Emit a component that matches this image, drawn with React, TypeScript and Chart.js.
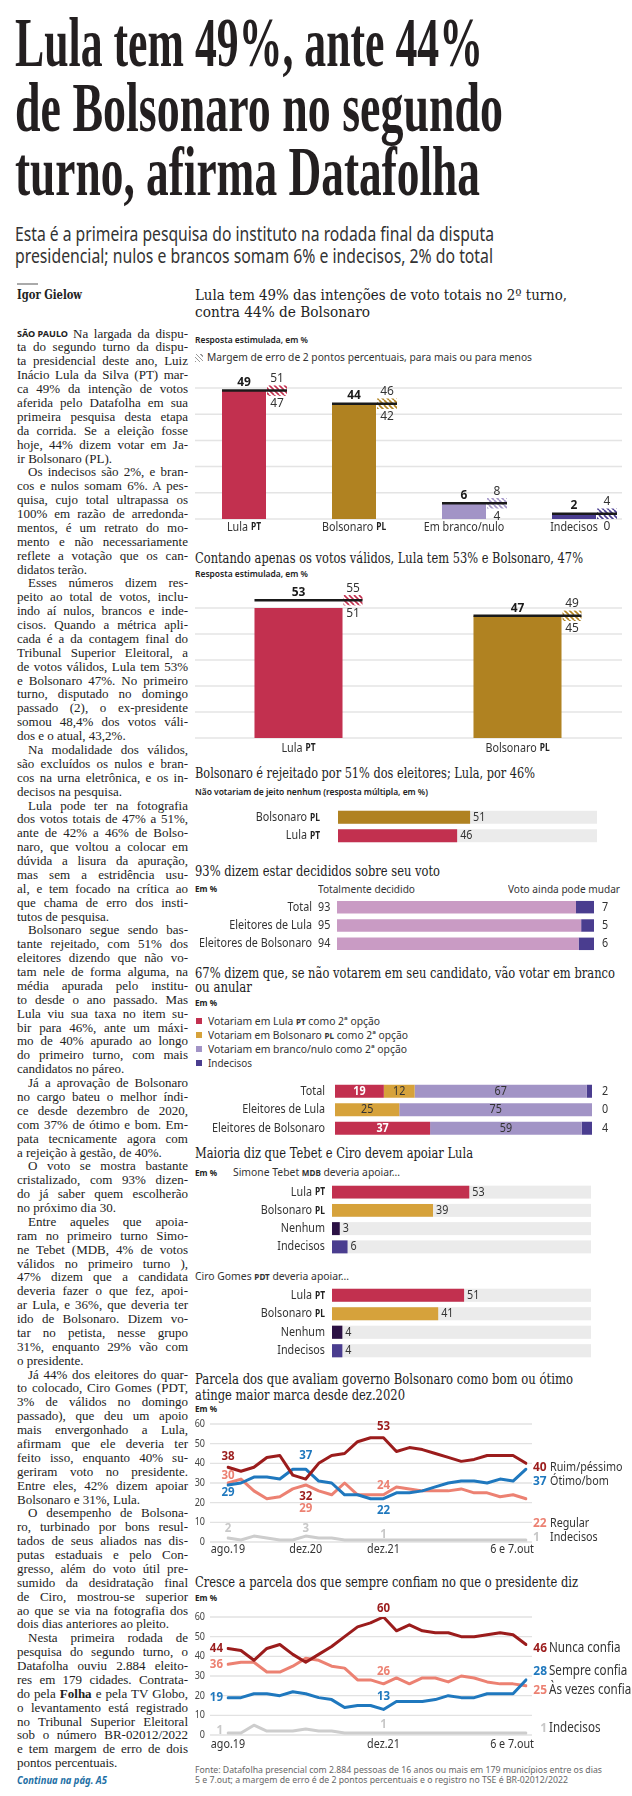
import React, { useEffect, useLayoutEffect, useRef } from "react";
import { Chart, registerables } from "chart.js";
Chart.register(...registerables);

// ---------------- DATA ----------------
const voteCategories = ["Lula", "Bolsonaro", "Em branco/nulo", "Indecisos"];
const voteParties = ["PT", "PL", "", ""];
const voteTotal = [49, 44, 6, 2];
const errorMargin = 2;

const validCategories = ["Lula", "Bolsonaro"];
const validParties = ["PT", "PL"];
const validVotes = [53, 47];

const rejectCategories = ["Bolsonaro", "Lula"];
const rejectParties = ["PL", "PT"];
const rejectValues = [51, 46];

const decidedCategories = ["Total", "Eleitores de Lula", "Eleitores de Bolsonaro"];
const decidedTotally = [93, 95, 94];
const decidedMayChange = [7, 5, 6];

const secondCategories = ["Total", "Eleitores de Lula", "Eleitores de Bolsonaro"];
const secondLula = [19, 0, 37];
const secondBolsonaro = [12, 25, 0];
const secondBlank = [67, 75, 59];
const secondUndecided = [2, 0, 4];

const supportCategories = ["Lula", "Bolsonaro", "Nenhum", "Indecisos"];
const supportParties = ["PT", "PL", "", ""];
const tebetSupport = [53, 39, 3, 6];
const ciroSupport = [51, 41, 4, 4];

const evalPeriods = ["ago.19", "", "", "", "", "", "dez.20", "", "", "", "", "", "dez.21", "", "", "", "", "", "", "", "", "", "", "6 e 7.out"];
const evalNames = ["Ruim/péssimo", "Ótimo/bom", "Regular", "Indecisos"];
const evalRuim = [38, 36, 38, 43, 44, 34, 32, 40, 44, 45, 51, 53, 53, 46, 48, 47, 45, 43, 41, 42, 44, 44, 44, 40];
const evalOtimo = [29, 30, 33, 33, 32, 37, 37, 31, 30, 24, 24, 22, 22, 25, 25, 26, 28, 30, 31, 31, 30, 32, 31, 37];
const evalRegular = [30, 32, 26, 22, 23, 27, 29, 26, 24, 30, 24, 24, 24, 28, 27, 26, 26, 26, 27, 25, 25, 23, 24, 22];
const evalIndecisos = [2, 1, 3, 2, 1, 1, 3, 2, 2, 1, 1, 1, 1, 1, 1, 1, 1, 1, 1, 1, 1, 1, 1, 1];

const trustPeriods = ["ago.19", "", "", "", "", "", "", "", "", "", "", "", "dez.21", "", "", "", "", "", "", "", "", "", "", "6 e 7.out"];
const trustNames = ["Nunca confia", "Sempre confia", "Às vezes confia", "Indecisos"];
const trustNunca = [44, 43, 38, 44, 46, 41, 37, 41, 45, 50, 55, 57, 60, 53, 56, 53, 52, 52, 50, 50, 51, 52, 51, 46];
const trustSempre = [19, 19, 21, 21, 20, 22, 21, 19, 18, 14, 15, 15, 13, 17, 17, 17, 18, 20, 19, 19, 21, 21, 21, 28];
const trustAsVezes = [36, 37, 37, 32, 32, 35, 39, 38, 35, 34, 28, 28, 26, 29, 26, 29, 29, 27, 30, 29, 27, 26, 26, 25];
const trustIndecisos = [1, 1, 5, 2, 2, 2, 3, 2, 2, 1, 1, 1, 1, 1, 1, 1, 1, 1, 1, 1, 1, 1, 1, 1];

const bodyParagraphs: string[][] = [
  ["Na largada da dispu-", "ta do segundo turno da dispu-", "ta presidencial deste ano, Luiz", "Inácio Lula da Silva (PT) mar-", "ca 49% da intenção de votos", "aferida pelo Datafolha em sua", "primeira pesquisa desta etapa", "da corrida. Se a eleição fosse", "hoje, 44% dizem votar em Ja-", "ir Bolsonaro (PL)."],
  ["Os indecisos são 2%, e bran-", "cos e nulos somam 6%. A pes-", "quisa, cujo total ultrapassa os", "100% em razão de arredonda-", "mentos, é um retrato do mo-", "mento e não necessariamente", "reflete a votação que os can-", "didatos terão."],
  ["Esses números dizem res-", "peito ao total de votos, inclu-", "indo aí nulos, brancos e inde-", "cisos. Quando a métrica apli-", "cada é a da contagem final do", "Tribunal Superior Eleitoral, a", "de votos válidos, Lula tem 53%", "e Bolsonaro 47%. No primeiro", "turno, disputado no domingo", "passado (2), o ex-presidente", "somou 48,4% dos votos váli-", "dos e o atual, 43,2%."],
  ["Na modalidade dos válidos,", "são excluídos os nulos e bran-", "cos na urna eletrônica, e os in-", "decisos na pesquisa."],
  ["Lula pode ter na fotografia", "dos votos totais de 47% a 51%,", "ante de 42% a 46% de Bolso-", "naro, que voltou a colocar em", "dúvida a lisura da apuração,", "mas sem a estridência usu-", "al, e tem focado na crítica ao", "que chama de erro dos insti-", "tutos de pesquisa."],
  ["Bolsonaro segue sendo bas-", "tante rejeitado, com 51% dos", "eleitores dizendo que não vo-", "tam nele de forma alguma, na", "média apurada pelo institu-", "to desde o ano passado. Mas", "Lula viu sua taxa no item su-", "bir para 46%, ante um máxi-", "mo de 40% apurado ao longo", "do primeiro turno, com mais", "candidatos no páreo."],
  ["Já a aprovação de Bolsonaro", "no cargo bateu o melhor índi-", "ce desde dezembro de 2020,", "com 37% de ótimo e bom. Em-", "pata tecnicamente agora com", "a rejeição à gestão, de 40%."],
  ["O voto se mostra bastante", "cristalizado, com 93% dizen-", "do já saber quem escolherão", "no próximo dia 30."],
  ["Entre aqueles que apoia-", "ram no primeiro turno Simo-", "ne Tebet (MDB, 4% de votos", "válidos no primeiro turno ),", "47% dizem que a candidata", "deveria fazer o que fez, apoi-", "ar Lula, e 36%, que deveria ter", "ido de Bolsonaro. Dizem vo-", "tar no petista, nesse grupo", "31%, enquanto 29% vão com", "o presidente."],
  ["Já 44% dos eleitores do quar-", "to colocado, Ciro Gomes (PDT,", "3% de válidos no domingo", "passado), que deu um apoio", "mais envergonhado a Lula,", "afirmam que ele deveria ter", "feito isso, enquanto 40% su-", "geriram voto no presidente.", "Entre eles, 42% dizem apoiar", "Bolsonaro e 31%, Lula."],
  ["O desempenho de Bolsona-", "ro, turbinado por bons resul-", "tados de seus aliados nas dis-", "putas estaduais e pelo Con-", "gresso, além do voto útil pre-", "sumido da desidratação final", "de Ciro, mostrou-se superior", "ao que se via na fotografia dos", "dois dias anteriores ao pleito."],
  ["Nesta primeira rodada de", "pesquisa do segundo turno, o", "Datafolha ouviu 2.884 eleito-", "res em 179 cidades. Contrata-", "do pela *Folha* e pela TV Globo,", "o levantamento está registrado", "no Tribunal Superior Eleitoral", "sob o número BR-02012/2022", "e tem margem de erro de dois", "pontos percentuais."],
];

// ---------------- STYLE ----------------
const SERIF = "'DejaVu Serif', serif";
const HEAD = "'Liberation Serif', serif";
const BODY = "'Liberation Serif', serif";
const SANS = "'Noto Sans', 'Open Sans', sans-serif";
const INK = "#231f20";
const SX = 0.86;

const LULA = "#c2304f";
const BOLSO_DARK = "#b08221";
const BOLSO = "#d6a23b";
const BLANK = "#a294c6";
const UNDEC = "#4a3d8f";
const NONE = "#2b1144";
const DECIDED = "#c99bc4";
const RED = "#9b1c1c";
const BLUE = "#1f78be";
const SALMON = "#ec8172";
const GRAY = "#cdcdcd";

// ---------------- TEXT HELPERS ----------------
function fitAll() {
  document.querySelectorAll<HTMLElement>("[data-fit]").forEach((el) => {
    const target = parseFloat(el.dataset.fit || "0");
    if (!target) return;
    const mode = el.dataset.mode || "scale";
    el.style.transform = "none";
    el.style.wordSpacing = "0px";
    const w = el.getBoundingClientRect().width;
    if (!w) return;
    if (mode === "justify" || mode === "last") {
      if (w <= target) {
        if (mode === "justify") {
          const n = (el.textContent || "").split(" ").length - 1;
          if (n > 0) el.style.wordSpacing = `${(target - w) / n}px`;
        }
        return;
      }
    }
    el.style.transform = `scaleX(${target / w})`;
  });
}

function kFor(font: string) {
  if (font === SANS) return 0.888;
  if (font === SERIF) return 0.846;
  return 0.8375;
}

function T({ x, b, size, font = SANS, weight = 400, color = "#333", w, italic, mode = "scale", children }: any) {
  return (
    <div
      style={{
        position: "absolute",
        left: x,
        top: b - kFor(font) * size,
        fontFamily: font,
        fontSize: size,
        lineHeight: `${size}px`,
        fontWeight: weight,
        fontStyle: italic ? "italic" : "normal",
        color,
        whiteSpace: "nowrap",
      }}
    >
      <span data-fit={w} data-mode={mode} style={{ display: "inline-block", transformOrigin: "0 0" }}>
        {children}
      </span>
    </div>
  );
}

const P = ({ children }: any) => <b style={{ fontSize: "0.78em", fontWeight: 700 }}>{children}</b>;

function Body() {
  const rows: any[] = [];
  let n = 0;
  const size = 13;
  bodyParagraphs.forEach((p, pi) =>
    p.forEach((line, li) => {
      let x = 17;
      let w = 171;
      if (li === 0 && pi > 0) {
        x = 28;
        w = 160;
      }
      if (pi === 0 && li === 0) {
        x = 73;
        w = 115;
      }
      const parts = line.split("*");
      rows.push(
        <T key={n} x={x} b={337.5 + n * 13.88} size={size} font={BODY} color="#222" w={w} mode={li === p.length - 1 ? "last" : "justify"}>
          {parts.map((s, i) => (i % 2 ? <b key={i}>{s}</b> : s))}
        </T>
      );
      n++;
    })
  );
  return <>{rows}</>;
}

// ---------------- CANVAS HELPERS ----------------
function txt(ctx: any, s: string, x: number, y: number, font: string, color: string, align = "left", sx = SX) {
  ctx.save();
  ctx.font = font;
  ctx.fillStyle = color;
  ctx.textBaseline = "middle";
  ctx.textAlign = "left";
  const w = ctx.measureText(s).width * sx;
  const x0 = align === "left" ? x : align === "right" ? x - w : x - w / 2;
  ctx.translate(x0, y);
  ctx.scale(sx, 1);
  ctx.fillText(s, 0, 0);
  ctx.restore();
  return w;
}

function catLabel(ctx: any, name: string, party: string, x: number, y: number, align: string, size = 12) {
  const f1 = `${size}px ${SANS}`;
  const f2 = `bold ${size * 0.78}px ${SANS}`;
  ctx.save();
  ctx.font = f1;
  const w1 = ctx.measureText(name).width * SX;
  ctx.font = f2;
  const w2 = party ? ctx.measureText(party).width * SX : 0;
  ctx.restore();
  const gap = party ? 3 : 0;
  const tot = w1 + gap + w2;
  const x0 = align === "center" ? x - tot / 2 : align === "right" ? x - tot : x;
  txt(ctx, name, x0, y, f1, "#333", "left");
  if (party) txt(ctx, party, x0 + w1 + gap, y + 0.5, f2, "#222", "left");
}

function hatch(ctx: any, color: string) {
  const c = document.createElement("canvas");
  c.width = 5;
  c.height = 5;
  const g = c.getContext("2d")!;
  g.fillStyle = "#fff";
  g.fillRect(0, 0, 5, 5);
  g.strokeStyle = color;
  g.lineWidth = 1.6;
  g.beginPath();
  for (let k = -5; k <= 5; k += 5) {
    g.moveTo(k, 0);
    g.lineTo(k + 5, 5);
  }
  g.stroke();
  return ctx.createPattern(c, "repeat");
}

const base = (padding: any) => ({
  responsive: false,
  animation: false,
  devicePixelRatio: 1,
  events: [],
  layout: { padding },
  plugins: { legend: { display: false }, tooltip: { enabled: false } },
});

function barGrid(dl: number, dr: number) {
  return {
    id: "barGrid",
    beforeDatasetsDraw(chart: any) {
      const { ctx, chartArea: a } = chart;
      const y = chart.scales.y;
      ctx.save();
      ctx.strokeStyle = "#e4e4e4";
      ctx.lineWidth = 1.5;
      for (let v = y.min; v <= y.max; v += 10) {
        const py = y.getPixelForValue(v);
        ctx.beginPath();
        ctx.moveTo(a.left + dl, py);
        ctx.lineTo(a.right + dr, py);
        ctx.stroke();
      }
      ctx.restore();
    },
  };
}

function marginPlugin(cats: string[], parties: string[], margin: number, boxW: number, labelDy: number) {
  return {
    id: "margin",
    afterDatasetsDraw(chart: any) {
      const ctx = chart.ctx;
      const ys = chart.scales.y;
      const meta = chart.getDatasetMeta(0);
      const ds = chart.data.datasets[0];
      meta.data.forEach((bar: any, i: number) => {
        const v = ds.data[i] as number;
        const color = ds.backgroundColor[i];
        const l = bar.x - bar.width / 2;
        const r = bar.x + bar.width / 2;
        const bx0 = r + 1;
        const bx1 = r + 1 + boxW;
        const hi = v + margin;
        const lo = Math.max(0, v - margin);
        const yHi = ys.getPixelForValue(hi);
        const yLo = ys.getPixelForValue(lo);
        const yv = ys.getPixelForValue(v);
        ctx.save();
        ctx.fillStyle = hatch(ctx, color);
        ctx.fillRect(bx0, yHi, boxW, yLo - yHi);
        ctx.strokeStyle = "#1a1a1a";
        ctx.lineWidth = 2.5;
        ctx.beginPath();
        ctx.moveTo(l, yv);
        ctx.lineTo(bx1, yv);
        ctx.stroke();
        ctx.restore();
        const cx = (bx0 + bx1) / 2;
        txt(ctx, String(v), bar.x, yv - 8, `bold 13px ${SANS}`, "#1a1a1a", "center", 0.92);
        txt(ctx, String(hi), cx, yHi - 7, `13px ${SANS}`, "#333", "center", 0.92);
        txt(ctx, String(lo), cx, yLo + 7.5, `13px ${SANS}`, "#333", "center", 0.92);
        catLabel(ctx, cats[i], parties[i], bar.x, chart.chartArea.bottom + labelDy, "center", 12.5);
      });
    },
  };
}

function hbarPlugin(cats: string[], parties: string[], labelRight: number) {
  return {
    id: "hbar",
    beforeDatasetsDraw(chart: any) {
      const { ctx, chartArea: a } = chart;
      const meta = chart.getDatasetMeta(0);
      ctx.save();
      ctx.fillStyle = "#ebebeb";
      meta.data.forEach((b: any) => ctx.fillRect(a.left, b.y - b.height / 2, a.right - a.left, b.height));
      ctx.restore();
    },
    afterDatasetsDraw(chart: any) {
      const ctx = chart.ctx;
      const meta = chart.getDatasetMeta(0);
      const data = chart.data.datasets[0].data;
      meta.data.forEach((b: any, i: number) => {
        catLabel(ctx, cats[i], parties[i], labelRight, b.y, "right", 12.5);
        txt(ctx, String(data[i]), b.x + 3, b.y, `12.5px ${SANS}`, "#333", "left");
      });
    },
  };
}

function decidedPlugin(cats: string[]) {
  return {
    id: "decided",
    afterDatasetsDraw(chart: any) {
      const ctx = chart.ctx;
      const m0 = chart.getDatasetMeta(0);
      const d0 = chart.data.datasets[0].data;
      const d1 = chart.data.datasets[1].data;
      m0.data.forEach((b: any, i: number) => {
        txt(ctx, cats[i], 123, b.y, `12.5px ${SANS}`, "#333", "right");
        txt(ctx, String(d0[i]), 129, b.y, `12.5px ${SANS}`, "#333", "left");
        txt(ctx, String(d1[i]), 413, b.y, `12.5px ${SANS}`, "#333", "left");
      });
    },
  };
}

function secondPlugin(cats: string[]) {
  return {
    id: "second",
    afterDatasetsDraw(chart: any) {
      const ctx = chart.ctx;
      const n = chart.data.datasets.length;
      const m0 = chart.getDatasetMeta(0);
      m0.data.forEach((b: any, i: number) => {
        txt(ctx, cats[i], 136, b.y, `12.5px ${SANS}`, "#333", "right");
        txt(ctx, String(chart.data.datasets[n - 1].data[i]), 413, b.y, `12.5px ${SANS}`, "#333", "left");
      });
      for (let d = 0; d < n - 1; d++) {
        const meta = chart.getDatasetMeta(d);
        meta.data.forEach((b: any, i: number) => {
          const v = chart.data.datasets[d].data[i];
          if (!v) return;
          const white = d === 0;
          txt(ctx, String(v), (b.x + b.base) / 2, b.y, `${white ? "bold " : ""}12.5px ${SANS}`, white ? "#fff" : "#333", "center");
        });
      }
    },
  };
}

function linePlugin(o: any) {
  return {
    id: "lineDeco",
    beforeDatasetsDraw(chart: any) {
      const { ctx, chartArea: a } = chart;
      const y = chart.scales.y;
      ctx.save();
      ctx.strokeStyle = "#e2e2e2";
      ctx.lineWidth = 1.3;
      for (let v = 0; v <= 60; v += 10) {
        const py = y.getPixelForValue(v);
        ctx.beginPath();
        ctx.moveTo(a.left - 18, py);
        ctx.lineTo(a.right + 6, py);
        ctx.stroke();
        txt(ctx, String(v), a.left - 23, py, `10.5px ${SANS}`, "#444", "right");
      }
      ctx.restore();
    },
    afterDatasetsDraw(chart: any) {
      const { ctx, chartArea: a } = chart;
      const xs = chart.scales.x;
      const labels = chart.data.labels as string[];
      labels.forEach((lab, i) => {
        if (!lab) return;
        const px = xs.getPixelForValue(i);
        if (i === labels.length - 1) txt(ctx, lab, a.right + 8, a.bottom + o.xDy, `12.5px ${SANS}`, "#333", "right");
        else txt(ctx, lab, px, a.bottom + o.xDy, `12.5px ${SANS}`, "#333", "center");
      });
      o.marks.forEach((m: any) => {
        const pt = chart.getDatasetMeta(m.ds).data[m.i];
        const v = chart.data.datasets[m.ds].data[m.i];
        txt(ctx, String(v), pt.x + (m.dx || 0), pt.y + m.dy, `bold 12.5px ${SANS}`, o.labelColors[m.ds], m.align || "center", 0.92);
      });
      chart.data.datasets.forEach((ds: any, k: number) => {
        const v = ds.data[ds.data.length - 1];
        const yy = a.top + o.right[k];
        txt(ctx, String(v), o.numX, yy, `bold 13px ${SANS}`, o.labelColors[k], o.numAlign, 0.92);
        txt(ctx, o.names[k], o.nameX, yy, `${o.nameSize}px ${SANS}`, "#333", "left");
      });
    },
  };
}

function lineDataset(data: number[], color: string) {
  return { data, borderColor: color, borderWidth: 3, pointRadius: 0, tension: 0, fill: false, borderJoinStyle: "round", borderCapStyle: "round" };
}

// ---------------- CHART CONFIGS ----------------
const cfgVotes = () => ({
  type: "bar",
  data: {
    labels: voteCategories,
    datasets: [{ data: voteTotal, backgroundColor: [LULA, BOLSO_DARK, BLANK, UNDEC], barPercentage: 0.4, categoryPercentage: 1 }],
  },
  options: { ...base({ left: 0, right: 3, top: 48, bottom: 21 }), scales: { x: { display: false }, y: { display: false, min: 0, max: 50 } } },
  plugins: [barGrid(6, -7), marginPlugin(voteCategories, voteParties, errorMargin, 20, 8)],
});

const cfgValid = () => ({
  type: "bar",
  data: {
    labels: validCategories,
    datasets: [{ data: validVotes, backgroundColor: [LULA, BOLSO_DARK], barPercentage: 0.402, categoryPercentage: 1 }],
  },
  options: { ...base({ left: 0, right: 5, top: 43, bottom: 27 }), scales: { x: { display: false }, y: { display: false, min: 0, max: 50 } } },
  plugins: [barGrid(6, -5), marginPlugin(validCategories, validParties, errorMargin, 19, 10)],
});

const cfgReject = () => ({
  type: "bar",
  data: {
    labels: rejectCategories,
    datasets: [{ data: rejectValues, backgroundColor: [BOLSO_DARK, LULA], barPercentage: 0.7, categoryPercentage: 1 }],
  },
  options: {
    ...base({ left: 149, right: 35, top: 8, bottom: 5 }),
    indexAxis: "y",
    scales: { x: { display: false, min: 0, max: 100 }, y: { display: false } },
  },
  plugins: [hbarPlugin(rejectCategories, rejectParties, 131)],
});

const cfgDecided = () => ({
  type: "bar",
  data: {
    labels: decidedCategories,
    datasets: [
      { data: decidedTotally, backgroundColor: DECIDED, barPercentage: 0.68, categoryPercentage: 1 },
      { data: decidedMayChange, backgroundColor: UNDEC, barPercentage: 0.68, categoryPercentage: 1 },
    ],
  },
  options: {
    ...base({ left: 148, right: 38, top: 3, bottom: 2 }),
    indexAxis: "y",
    scales: { x: { display: false, stacked: true, min: 0, max: 100 }, y: { display: false, stacked: true } },
  },
  plugins: [decidedPlugin(decidedCategories)],
});

const cfgSecond = () => ({
  type: "bar",
  data: {
    labels: secondCategories,
    datasets: [
      { data: secondLula, backgroundColor: LULA, barPercentage: 0.7, categoryPercentage: 1 },
      { data: secondBolsonaro, backgroundColor: BOLSO, barPercentage: 0.7, categoryPercentage: 1 },
      { data: secondBlank, backgroundColor: BLANK, barPercentage: 0.7, categoryPercentage: 1 },
      { data: secondUndecided, backgroundColor: UNDEC, barPercentage: 0.7, categoryPercentage: 1 },
    ],
  },
  options: {
    ...base({ left: 146, right: 40, top: 4, bottom: 0.5 }),
    indexAxis: "y",
    scales: { x: { display: false, stacked: true, min: 0, max: 100 }, y: { display: false, stacked: true } },
  },
  plugins: [secondPlugin(secondCategories)],
});

const cfgSupport = (values: number[]) => () => ({
  type: "bar",
  data: {
    labels: supportCategories,
    datasets: [{ data: values, backgroundColor: [LULA, BOLSO, NONE, UNDEC], barPercentage: 0.71, categoryPercentage: 1 }],
  },
  options: {
    ...base({ left: 143, right: 41, top: 3, bottom: 1 }),
    indexAxis: "y",
    scales: { x: { display: false, min: 0, max: 100 }, y: { display: false } },
  },
  plugins: [hbarPlugin(supportCategories, supportParties, 136)],
});

const cfgEval = () => ({
  type: "line",
  data: {
    labels: evalPeriods,
    datasets: [lineDataset(evalRuim, RED), lineDataset(evalOtimo, BLUE), lineDataset(evalRegular, SALMON), lineDataset(evalIndecisos, GRAY)],
  },
  options: {
    ...base({ left: 39, right: 106, top: 14, bottom: 18 }),
    scales: { x: { display: false }, y: { display: false, min: 0, max: 60 } },
  },
  plugins: [
    linePlugin({
      xDy: 7,
      labelColors: [RED, BLUE, SALMON, "#c8c8c8"],
      names: evalNames,
      right: [43, 57, 99, 113],
      numX: 344,
      numAlign: "left",
      nameX: 361,
      nameSize: 12.5,
      marks: [
        { ds: 0, i: 0, dy: -11 },
        { ds: 2, i: 0, dy: -8 },
        { ds: 1, i: 0, dy: 7 },
        { ds: 3, i: 0, dy: -10 },
        { ds: 1, i: 6, dy: -14 },
        { ds: 0, i: 6, dy: 17 },
        { ds: 2, i: 6, dy: 23 },
        { ds: 3, i: 6, dy: -8 },
        { ds: 0, i: 12, dy: -11 },
        { ds: 2, i: 12, dy: -9 },
        { ds: 1, i: 12, dy: 12 },
        { ds: 3, i: 12, dy: -6 },
      ],
    }),
  ],
});

const cfgTrust = () => ({
  type: "line",
  data: {
    labels: trustPeriods,
    datasets: [lineDataset(trustNunca, RED), lineDataset(trustSempre, BLUE), lineDataset(trustAsVezes, SALMON), lineDataset(trustIndecisos, GRAY)],
  },
  options: {
    ...base({ left: 39, right: 106, top: 14, bottom: 20 }),
    scales: { x: { display: false }, y: { display: false, min: 0, max: 60 } },
  },
  plugins: [
    linePlugin({
      xDy: 9,
      labelColors: [RED, BLUE, SALMON, "#c8c8c8"],
      names: trustNames,
      right: [31, 54, 73, 111],
      numX: 358,
      numAlign: "right",
      nameX: 360,
      nameSize: 13.5,
      marks: [
        { ds: 0, i: 0, dx: -5, dy: 0, align: "right" },
        { ds: 2, i: 0, dx: -5, dy: 0, align: "right" },
        { ds: 1, i: 0, dx: -5, dy: 0, align: "right" },
        { ds: 3, i: 0, dx: -5, dy: -3, align: "right" },
        { ds: 0, i: 12, dy: -9 },
        { ds: 2, i: 12, dy: -12 },
        { ds: 1, i: 12, dy: -13 },
        { ds: 3, i: 12, dy: -9 },
      ],
    }),
  ],
});

function ChartCanvas({ left, top, width, height, config }: any) {
  const ref = useRef<HTMLCanvasElement>(null);
  useEffect(() => {
    const c = new Chart(ref.current as any, config() as any);
    return () => c.destroy();
  }, []);
  return <canvas ref={ref} width={width} height={height} style={{ position: "absolute", left, top, width, height }} />;
}

// ---------------- APP ----------------
export default function App() {
  useLayoutEffect(() => {
    fitAll();
    const f: any = (document as any).fonts;
    if (f && f.ready) f.ready.then(() => fitAll());
  }, []);

  const title = (x: number, b: number, w: number, s: string) => (
    <T x={x} b={b} size={14.5} font={SERIF} color="#222" w={w}>
      {s}
    </T>
  );
  const em = (b: number) => (
    <T x={195} b={b} size={9} weight={700} color="#222" w={22}>
      Em %
    </T>
  );
  const sq = (b: number, c: string) => <div style={{ position: "absolute", left: 196, top: b - 7.5, width: 6, height: 6, background: c }} />;

  return (
    <div style={{ position: "absolute", left: 0, top: 0, width: 632, height: 1796, background: "#fff", overflow: "hidden" }}>
      {/* Headline */}
      <T x={15} b={67} size={70} font={HEAD} weight={700} color={INK} w={468}>Lula tem 49%, ante 44%</T>
      <T x={15} b={132} size={70} font={HEAD} weight={700} color={INK} w={488}>de Bolsonaro no segundo</T>
      <T x={15} b={196} size={70} font={HEAD} weight={700} color={INK} w={465}>turno, afirma Datafolha</T>
      <T x={15} b={241} size={19.5} color="#333" w={479}>Esta é a primeira pesquisa do instituto na rodada final da disputa</T>
      <T x={15} b={263} size={19.5} color="#333" w={478}>presidencial; nulos e brancos somam 6% e indecisos, 2% do total</T>

      {/* Article column */}
      <div style={{ position: "absolute", left: 17, top: 283, width: 21, height: 1.5, background: "#aaa" }} />
      <T x={17} b={299} size={12} font={SERIF} weight={700} color="#222" w={65}>Igor Gielow</T>
      <T x={17} b={337.5} size={8.5} weight={700} color="#222" w={51}>SÃO PAULO</T>
      <Body />
      <T x={17} b={1784} size={10} weight={700} italic color="#1d6fa5" w={90}>Continua na pág. A5</T>

      {/* Chart 1 */}
      {title(195, 300, 372, "Lula tem 49% das intenções de voto totais no 2º turno,")}
      {title(195, 317, 175, "contra 44% de Bolsonaro")}
      <T x={195} b={343} size={9.5} weight={600} color="#222" w={113}>Resposta estimulada, em %</T>
      <div
        style={{
          position: "absolute",
          left: 195,
          top: 354,
          width: 8,
          height: 8,
          background: "repeating-linear-gradient(45deg, #999 0px, #999 1px, #fff 1px, #fff 3px)",
        }}
      />
      <T x={207} b={361.5} size={11.5} color="#333" w={325}>Margem de erro de 2 pontos percentuais, para mais ou para menos</T>
      <ChartCanvas left={189} top={340} width={443} height={200} config={cfgVotes} />

      {/* Chart 2 */}
      {title(195, 563, 388, "Contando apenas os votos válidos, Lula tem 53% e Bolsonaro, 47%")}
      <T x={195} b={577} size={9.5} weight={600} color="#222" w={113}>Resposta estimulada, em %</T>
      <ChartCanvas left={189} top={565} width={443} height={200} config={cfgValid} />

      {/* Chart 3 */}
      {title(195, 778, 340, "Bolsonaro é rejeitado por 51% dos eleitores; Lula, por 46%")}
      <T x={195} b={795} size={9.5} weight={600} color="#222" w={233}>Não votariam de jeito nenhum (resposta múltipla, em %)</T>
      <ChartCanvas left={189} top={800} width={443} height={50} config={cfgReject} />

      {/* Chart 4 */}
      {title(195, 876, 245, "93% dizem estar decididos sobre seu voto")}
      {em(892)}
      <T x={318} b={893} size={11.5} color="#333" w={97}>Totalmente decidido</T>
      <T x={508} b={893} size={11.5} color="#333" w={112}>Voto ainda pode mudar</T>
      <ChartCanvas left={189} top={895} width={443} height={60} config={cfgDecided} />

      {/* Chart 5 */}
      {title(195, 978, 420, "67% dizem que, se não votarem em seu candidato, vão votar em branco")}
      {title(195, 992, 57, "ou anular")}
      {em(1006)}
      {sq(1025, LULA)}
      <T x={208} b={1025} size={11.5} color="#333" w={172}>Votariam em Lula <P>PT</P> como 2ª opção</T>
      {sq(1039, BOLSO)}
      <T x={208} b={1039} size={11.5} color="#333" w={200}>Votariam em Bolsonaro <P>PL</P> como 2ª opção</T>
      {sq(1053, BLANK)}
      <T x={208} b={1053} size={11.5} color="#333" w={199}>Votariam em branco/nulo como 2ª opção</T>
      {sq(1067, UNDEC)}
      <T x={208} b={1067} size={11.5} color="#333" w={44}>Indecisos</T>
      <ChartCanvas left={189} top={1078} width={443} height={60} config={cfgSecond} />

      {/* Chart 6 */}
      {title(195, 1158, 278, "Maioria diz que Tebet e Ciro devem apoiar Lula")}
      {em(1176)}
      <T x={233} b={1176} size={11.5} color="#333" w={167}>Simone Tebet <P>MDB</P> deveria apoiar...</T>
      <ChartCanvas left={189} top={1180} width={443} height={77} config={cfgSupport(tebetSupport)} />
      <T x={195} b={1280.5} size={11.5} color="#333" w={154}>Ciro Gomes <P>PDT</P> deveria apoiar...</T>
      <ChartCanvas left={189} top={1283} width={443} height={78} config={cfgSupport(ciroSupport)} />

      {/* Chart 7 */}
      {title(195, 1384, 378, "Parcela dos que avaliam governo Bolsonaro como bom ou ótimo")}
      {title(195, 1400, 210, "atinge maior marca desde dez.2020")}
      {em(1412)}
      <ChartCanvas left={189} top={1410} width={443} height={150} config={cfgEval} />

      {/* Chart 8 */}
      {title(195, 1587, 383, "Cresce a parcela dos que sempre confiam no que o presidente diz")}
      {em(1601)}
      <ChartCanvas left={189} top={1603} width={443} height={152} config={cfgTrust} />

      <T x={195} b={1774} size={8.8} color="#666" w={407}>Fonte: Datafolha presencial com 2.884 pessoas de 16 anos ou mais em 179 municípios entre os dias</T>
      <T x={195} b={1784} size={8.8} color="#666" w={373}>5 e 7.out; a margem de erro é de 2 pontos percentuais e o registro no TSE é BR-02012/2022</T>
    </div>
  );
}
